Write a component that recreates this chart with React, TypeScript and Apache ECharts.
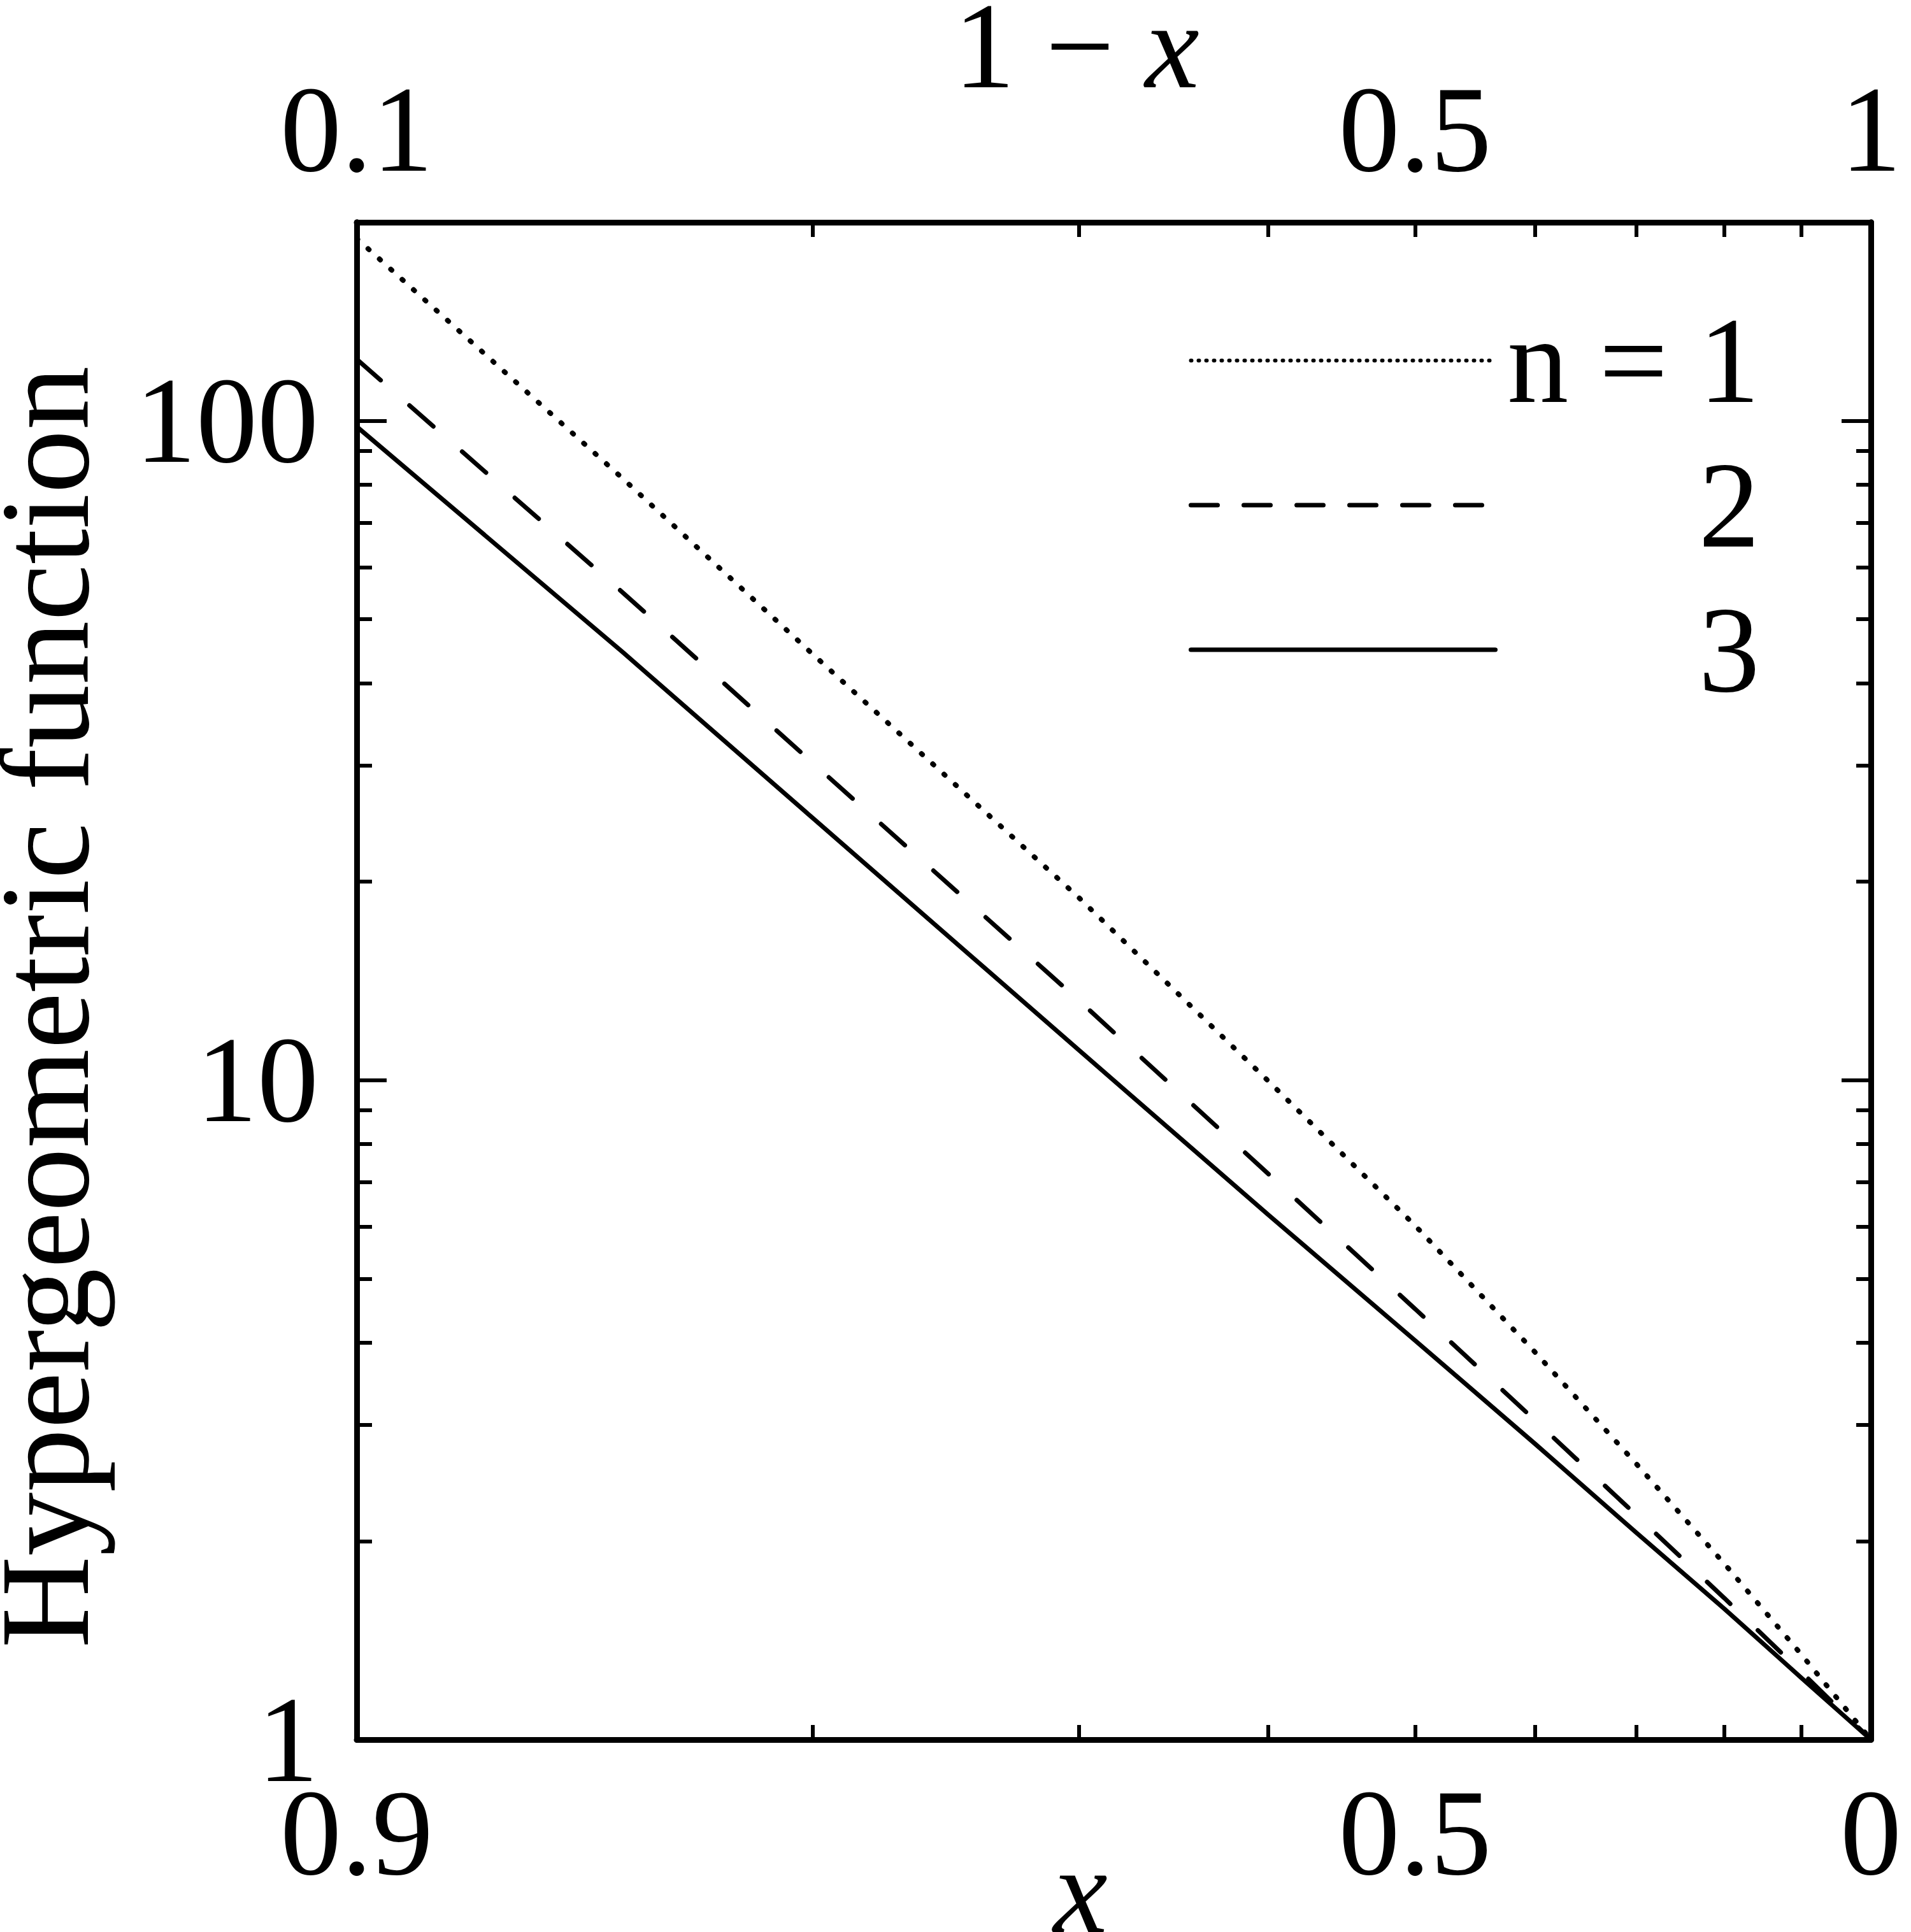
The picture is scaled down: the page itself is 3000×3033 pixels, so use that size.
import React, { useEffect, useRef } from "react";
import * as echarts from "echarts";

// 1 - x values (top axis, log scale)
const oneMinusX = [0.1, 0.15, 0.2, 0.3, 0.4, 0.5, 0.6, 0.7, 0.8, 0.9, 1.0];
const seriesNames = ["n = 1", "2", "3"];
const n1Values = [189, 81.6, 44.3, 18.9, 9.97, 6.02, 3.87, 2.62, 1.85, 1.345, 1];
const n2Values = [124, 54.8, 30.3, 13.2, 7.21, 4.5, 3.05, 2.19, 1.64, 1.265, 1];
const n3Values = [98, 44.5, 25.0, 11.1, 6.25, 4.03, 2.81, 2.06, 1.58, 1.24, 1];

const xMin = 0.1;
const xMax = 1;
const yMin = 1;
const yMax = 200;
const xTickValues = [0.1, 0.2, 0.3, 0.4, 0.5, 0.6, 0.7, 0.8, 0.9, 1];
const topLabelValues = [0.1, 0.5, 1];
const bottomLabelValues = [0.1, 0.5, 1];
const yLabelValues = [1, 10, 100];
const yMajorTicks = [1, 10, 100];
const yMinorTicks = [2, 3, 4, 5, 6, 7, 8, 9, 20, 30, 40, 50, 60, 70, 80, 90, 200];

const FONT = "Liberation Serif";
const FS = 192;

export default function App() {
  const ref = useRef<HTMLDivElement>(null);
  useEffect(() => {
    if (!ref.current) return;
    const chart = echarts.init(ref.current, null, { renderer: "svg" });
    const axisLine = { show: true, lineStyle: { color: "#000", width: 9 } };
    const labelStyle = { color: "#000", fontSize: FS, fontFamily: FONT };
    const xBase = {
      type: "log" as const,
      logBase: 10,
      min: xMin,
      max: xMax,
      axisLine,
      splitLine: { show: false },
      minorTick: { show: false },
    };
    const yBase = {
      type: "log" as const,
      logBase: 10,
      min: yMin,
      max: yMax,
      axisLine,
      splitLine: { show: false },
      minorTick: { show: false },
    };
    const fmt = (v: number) => String(Math.round(v * 10) / 10);
    const mkSeries = (name: string, vals: number[], lineType: any, width: number) => ({
      name,
      type: "line",
      xAxisIndex: 0,
      yAxisIndex: 0,
      symbol: "none",
      showSymbol: false,
      silent: true,
      data: oneMinusX.map((v, i) => [v, vals[i]]),
      lineStyle: { color: "#000", width, type: lineType, cap: "round" },
      itemStyle: { color: "#000" },
    });
    const tickStyle = { color: "#000", width: 6 };
    chart.setOption({
      animation: false,
      backgroundColor: "#fff",
      grid: { left: 560, right: 63, top: 349, bottom: 302 },
      xAxis: [
        {
          ...xBase,
          position: "bottom",
          axisTick: { show: true, inside: true, length: 23, customValues: xTickValues, lineStyle: tickStyle },
          axisLabel: {
            ...labelStyle,
            margin: 50,
            customValues: bottomLabelValues,
            formatter: (v: number) => fmt(1 - v),
          },
        },
        {
          ...xBase,
          position: "top",
          axisTick: { show: true, inside: true, length: 23, customValues: xTickValues, lineStyle: tickStyle },
          axisLabel: {
            ...labelStyle,
            margin: 50,
            customValues: topLabelValues,
            formatter: (v: number) => fmt(v),
          },
        },
      ],
      yAxis: [
        {
          ...yBase,
          position: "left",
          axisTick: { show: true, inside: true, length: 47, customValues: yMajorTicks, lineStyle: tickStyle },
          axisLabel: {
            ...labelStyle,
            margin: 60,
            padding: [0, 0, 16, 0],
            customValues: yLabelValues,
            formatter: (v: number) => String(Math.round(v)),
          },
        },
        {
          ...yBase,
          position: "left",
          axisTick: { show: true, inside: true, length: 24, customValues: yMinorTicks, lineStyle: tickStyle },
          axisLabel: { show: false },
        },
        {
          ...yBase,
          position: "right",
          axisTick: { show: true, inside: true, length: 46, customValues: yMajorTicks, lineStyle: tickStyle },
          axisLabel: { show: false },
        },
        {
          ...yBase,
          position: "right",
          axisTick: { show: true, inside: true, length: 23, customValues: yMinorTicks, lineStyle: tickStyle },
          axisLabel: { show: false },
        },
      ],
      legend: {
        orient: "vertical",
        left: 1861,
        top: 465,
        itemWidth: 478,
        itemHeight: 20,
        itemGap: 35,
        selectedMode: false,
        itemStyle: { color: "rgba(0,0,0,0)", borderColor: "rgba(0,0,0,0)", borderWidth: 0, opacity: 0 },
        data: [
          { name: seriesNames[0], lineStyle: { color: "#000", type: [1, 11], width: 6, cap: "round" } },
          { name: seriesNames[1], lineStyle: { color: "#000", type: [42, 41], width: 7, cap: "round" } },
          { name: seriesNames[2], lineStyle: { color: "#000", type: "solid", width: 7, cap: "round" } },
        ],
        formatter: (name: string) => "{t|" + name + "}",
        textStyle: {
          color: "#000",
          fontSize: FS,
          fontFamily: FONT,
          rich: {
            t: { width: 410, align: "right", fontSize: FS, fontFamily: FONT, lineHeight: 200, color: "#000" },
          },
        },
      },
      graphic: [
        {
          type: "text",
          x: 70,
          y: 1581,
          rotation: Math.PI / 2,
          style: {
            text: "Hypergeometric function",
            fontSize: 200,
            fontFamily: FONT,
            fill: "#000",
            align: "center",
            verticalAlign: "middle",
          },
        },
        {
          type: "text",
          x: 1690,
          y: 72,
          style: {
            text: "{r|1 − }{i|x}",
            align: "center",
            verticalAlign: "middle",
            rich: {
              r: { fontSize: FS, fontFamily: FONT, fill: "#000" },
              i: { fontSize: FS, fontFamily: FONT, fontStyle: "italic", fill: "#000" },
            },
          },
        },
        {
          type: "text",
          x: 1696,
          y: 2968,
          style: {
            text: "x",
            fontSize: FS,
            fontFamily: FONT,
            fontStyle: "italic",
            fill: "#000",
            align: "center",
            verticalAlign: "middle",
          },
        },
      ],
      series: [
        mkSeries(seriesNames[0], n1Values, [2, 22], 8),
        mkSeries(seriesNames[1], n2Values, [50, 60], 7),
        mkSeries(seriesNames[2], n3Values, "solid", 7),
      ],
    });
    return () => chart.dispose();
  }, []);
  return (
    <div
      ref={ref}
      style={{ position: "absolute", left: 0, top: 0, width: 3000, height: 3033, background: "#fff" }}
    />
  );
}
